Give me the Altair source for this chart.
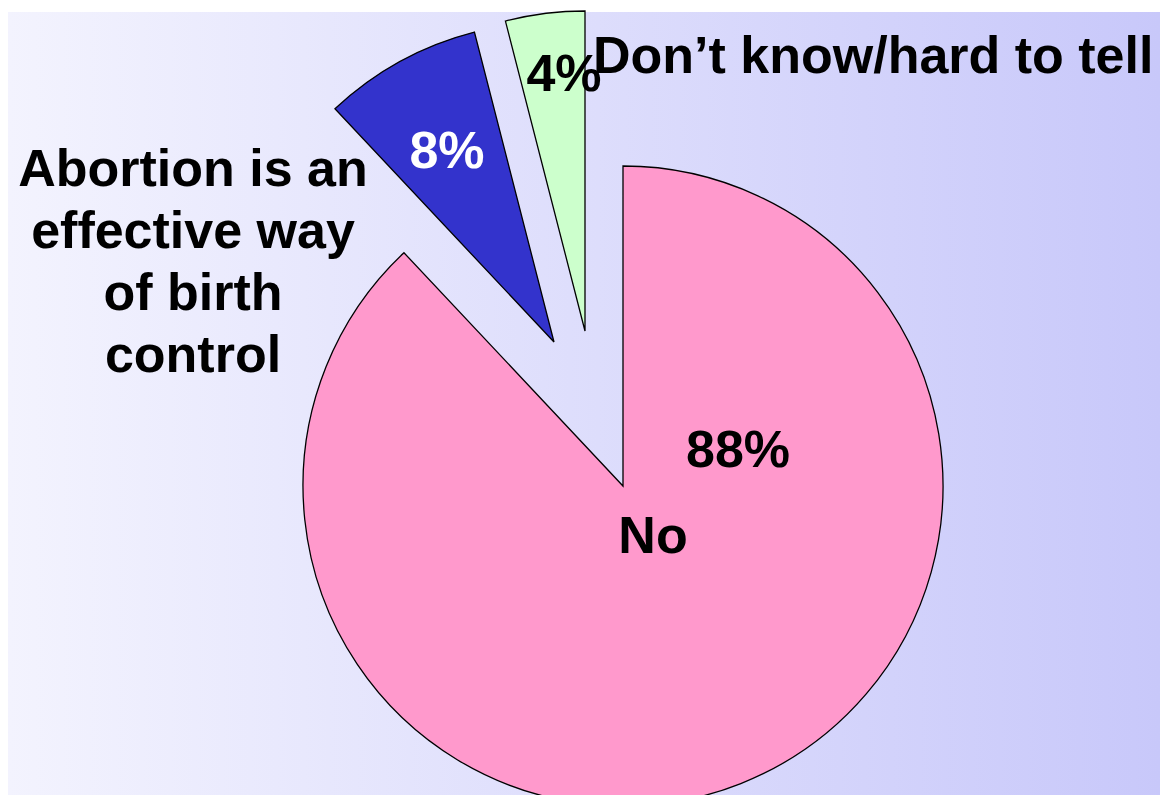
import math
import altair as alt
import pandas as pd

# ---- data ----
categories = ["No", "Abortion is an effective way of birth control", "Don’t know/hard to tell"]
values = [88, 8, 4]
pct_labels = ["88%", "8%", "4%"]
slice_colors = ["#ff99cc", "#3333cc", "#ccffcc"]
side_label_lines = ["Abortion is an", "effective way", "of birth", "control"]
no_label = "No"
dk_label = "Don’t know/hard to tell"

# ---- layout / style ----
W, H = 1152, 787
CX, CY = 615, 474
R = 320
explode = [(0, 0), (-69, -144), (-38, -155)]
FONT = "Liberation Sans"
FS = 52

df = pd.DataFrame({"category": categories, "value": values})
df["end"] = df["value"].cumsum()
df["start"] = df["end"] - df["value"]

bg = alt.Chart(pd.DataFrame({"a": [0]})).mark_rect(
    fill=alt.Gradient(
        gradient="linear",
        stops=[alt.GradientStop(color="#f3f3fe", offset=0),
               alt.GradientStop(color="#c8c8fa", offset=1)],
        x1=0, x2=1, y1=0, y2=0,
    )
).encode(x=alt.value(0), x2=alt.value(W), y=alt.value(0), y2=alt.value(H))

color_scale = alt.Scale(domain=categories, range=slice_colors)
theta_scale = alt.Scale(domain=[0, 100], range=[0, 2 * math.pi])

layers = [bg]
for cat, (dx, dy) in zip(categories, explode):
    arc = alt.Chart(df).transform_filter(
        alt.datum.category == cat
    ).mark_arc(
        outerRadius=R, stroke="black", strokeWidth=1.3,
        x=CX + dx, y=CY + dy,
    ).encode(
        theta=alt.Theta("start:Q", scale=theta_scale),
        theta2="end:Q",
        color=alt.Color("category:N", scale=color_scale, legend=None),
    )
    layers.append(arc)

def txt(text, x, y, color="black", align="center", **kw):
    return alt.Chart(pd.DataFrame({"a": [0]})).mark_text(
        font=FONT, fontSize=FS, fontWeight="bold", color=color,
        align=align, baseline="alphabetic", **kw
    ).encode(text=alt.value(text), x=alt.value(x), y=alt.value(y))

layers += [
    txt(pct_labels[0], 730, 455),
    txt(no_label, 645, 541),
    txt(pct_labels[1], 439, 156, color="white"),
    txt(pct_labels[2], 556, 79),
    txt(dk_label, 585, 61, align="left"),
    txt(side_label_lines, 185, 174, lineHeight=62),
]

chart = alt.layer(*layers).properties(
    width=W, height=H, padding=0,
    autosize=alt.AutoSizeParams(type="fit", contains="padding"),
).configure_view(stroke=None)

chart.save("out.html", embed_options={"renderer": "svg", "actions": False})
